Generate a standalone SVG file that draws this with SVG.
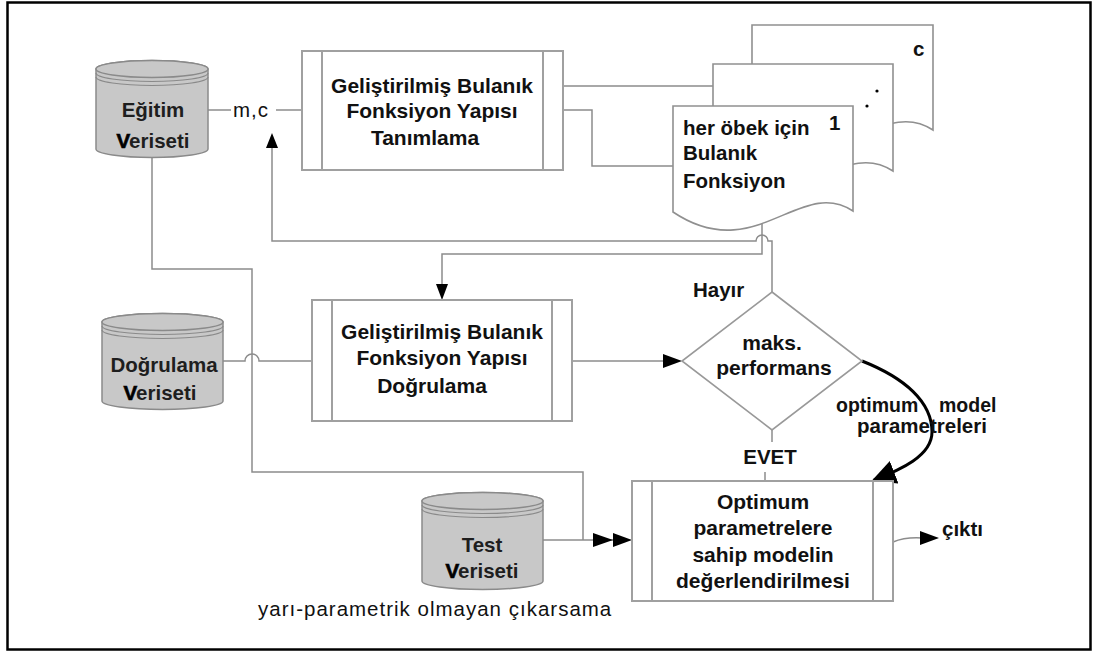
<svg xmlns="http://www.w3.org/2000/svg" width="1101" height="653" viewBox="0 0 1101 653">
  <style>
    .frame { fill: none; stroke: #000; stroke-width: 2.5; }
    .proc { fill: #fff; stroke: #a0a0a0; stroke-width: 2; }
    .bar { fill: none; stroke: #a0a0a0; stroke-width: 2; }
    .doc { fill: #fff; stroke: #909090; stroke-width: 1.6; }
    .cyl { fill: #c8c8c8; stroke: #8a8a8a; stroke-width: 1.5; }
    .ring { fill: none; stroke: #8a8a8a; stroke-width: 1.2; }
    .dia { fill: #fff; stroke: #999; stroke-width: 1.6; }
    .wire { fill: none; stroke: #8c8c8c; stroke-width: 1.5; }
    .bold-wire { fill: none; stroke: #000; stroke-width: 3; }
    .head { fill: #000; }
    text { font-family: "Liberation Sans", Arial, sans-serif; fill: #111; }
    .b { font-weight: bold; font-size: 21px; }
    .p { font-weight: bold; font-size: 20.5px; }
    .s { font-weight: bold; font-size: 19.5px; }
    .c { font-weight: bold; font-size: 20.5px; fill: #1e1e1e; }
    .r { font-size: 20.5px; letter-spacing: 1px; }
    .mid { text-anchor: middle; }
    .heavy { fill: #000; stroke: #000; stroke-width: 0.7; }
  </style>
  <defs>
    <marker id="bigarr" viewBox="0 0 10 10" refX="9" refY="5" markerWidth="8" markerHeight="8" orient="auto">
      <path d="M0,0 L10,5 L0,10 Z" fill="#000"/>
    </marker>
  </defs>

  <!-- outer frame -->
  <rect class="frame" x="7.5" y="2.5" width="1083" height="647"/>

  <!-- connectors -->
  <g id="connectors">
    <!-- Eğitim -> m,c -> identification box -->
    <path class="wire" d="M208,110 H231"/>
    <path class="wire" d="M276,110 H302"/>
    <!-- identification box -> function pages -->
    <path class="wire" d="M563,86 H717 V90"/>
    <path class="wire" d="M563,110 H592 V166 H673"/>
    <!-- pages -> validation box -->
    <path class="wire" d="M762,222 V254 H442 V292"/>
    <polygon class="head" points="436,284 448,284 442,300"/>
    <!-- Hayır loop back to m,c -->
    <path class="wire" d="M772,292 V241 H768 A6,6 0 0 0 756,241 H272 V146"/>
    <polygon class="head" points="266,148 278,148 272,133"/>
    <!-- Doğrulama data -> validation box (hop over vertical line) -->
    <path class="wire" d="M223,361 H245 A7,7 0 0 1 259,361 H312"/>
    <!-- Eğitim data down to evaluation box -->
    <path class="wire" d="M152,158 V269 H252 V472 H583 V540"/>
    <!-- validation box -> decision -->
    <path class="wire" d="M572,361 H666"/>
    <polygon class="head" points="663,354 663,368 682,361"/>
    <!-- EVET branch -->
    <path class="wire" d="M772,430 V442"/>
    <path class="wire" d="M765,472 V481"/>
    <!-- Test data -> evaluation box (double arrowhead) -->
    <path class="wire" d="M543,540 H615"/>
    <polygon class="head" points="593,533 593,547 613,540"/>
    <polygon class="head" points="613,533 613,547 632,540"/>
    <!-- optimum model parameters -->
    <path class="bold-wire" d="M862,361 C905,378 932,402 932,432 C932,456 900,470 874,480" marker-end="url(#bigarr)"/>
    <!-- output -->
    <path class="wire" d="M893,542 Q905,537 922,538"/>
    <polygon class="head" points="920,531 920,545 939,538"/>
  </g>

  <!-- training data store -->
  <g id="egitim">
    <path class="cyl" d="M96,69 A56,8.5 0 0 1 208,69 V149 A56,8.5 0 0 1 96,149 Z"/>
    <ellipse class="cyl" cx="152" cy="69" rx="56" ry="8.5"/>
    <path class="ring" d="M96,73 A56,8.5 0 0 0 208,73"/>
    <path class="ring" d="M96,77 A56,8.5 0 0 0 208,77"/>
    <text class="c mid" x="153" y="117">Eğitim</text>
    <text class="c mid" x="153" y="148"><tspan class="heavy">V</tspan>eriseti</text>
  </g>

  <text id="mc" class="r" x="233" y="117">m,c</text>

  <!-- structure identification process -->
  <g id="tanimlama">
    <rect class="proc" x="302" y="51" width="261" height="119"/>
    <path class="bar" d="M322,51 V170 M543,51 V170"/>
    <text class="b mid" x="432" y="93">Geliştirilmiş Bulanık</text>
    <text class="b mid" x="432" y="118">Fonksiyon Yapısı</text>
    <text class="b mid" x="425" y="145">Tanımlama</text>
  </g>

  <!-- stacked fuzzy function pages -->
  <g id="pages">
    <path class="doc" d="M752,130 V25 H933 V130 C880,95 835,185 752,130 Z"/>
    <path class="doc" d="M713,171 V64 H893 V171 C840,136 795,226 713,171 Z"/>
    <path class="doc" d="M673,212 V106 H853 V211 C800,176 755,267 673,212 Z"/>
    <text class="p" x="913" y="56">c</text>
    <circle cx="877" cy="91" r="1.6" fill="#000"/>
    <circle cx="867" cy="106" r="1.6" fill="#000"/>
    <text class="p" x="829" y="130">1</text>
    <text class="p" x="683" y="135">her öbek için</text>
    <text class="p" x="683" y="160">Bulanık</text>
    <text class="p" x="683" y="188">Fonksiyon</text>
  </g>

  <!-- validation data store -->
  <g id="dogrulama-veri">
    <path class="cyl" d="M102,322 A60.5,8.5 0 0 1 223,322 V401 A60.5,8.5 0 0 1 102,401 Z"/>
    <ellipse class="cyl" cx="162.5" cy="322" rx="60.5" ry="8.5"/>
    <path class="ring" d="M102,326 A60.5,8.5 0 0 0 223,326"/>
    <path class="ring" d="M102,330 A60.5,8.5 0 0 0 223,330"/>
    <text class="c mid" x="164" y="372">Doğrulama</text>
    <text class="c mid" x="160" y="400"><tspan class="heavy">V</tspan>eriseti</text>
  </g>

  <!-- structure validation process -->
  <g id="dogrulama">
    <rect class="proc" x="312" y="300" width="260" height="121"/>
    <path class="bar" d="M332,300 V421 M552,300 V421"/>
    <text class="b mid" x="442" y="339">Geliştirilmiş Bulanık</text>
    <text class="b mid" x="442" y="365">Fonksiyon Yapısı</text>
    <text class="b mid" x="432" y="393">Doğrulama</text>
  </g>

  <!-- decision -->
  <g id="karar">
    <polygon class="dia" points="772,292 862,361 772,430 682,361"/>
    <text class="b mid" x="772" y="350">maks.</text>
    <text class="b mid" x="774" y="375">performans</text>
    <text class="p" x="693" y="297">Hayır</text>
    <text class="p mid" x="770" y="464">EVET</text>
    <text class="s" x="836" y="412">optimum</text>
    <text class="s" x="939" y="412">model</text>
    <text class="p" x="857" y="433">parametreleri</text>
  </g>

  <!-- test data store -->
  <g id="test-veri">
    <path class="cyl" d="M422,501 A60.5,8.5 0 0 1 543,501 V581 A60.5,8.5 0 0 1 422,581 Z"/>
    <ellipse class="cyl" cx="482.5" cy="501" rx="60.5" ry="8.5"/>
    <path class="ring" d="M422,505 A60.5,8.5 0 0 0 543,505"/>
    <path class="ring" d="M422,509 A60.5,8.5 0 0 0 543,509"/>
    <text class="c mid" x="482" y="552">Test</text>
    <text class="c mid" x="482" y="578"><tspan class="heavy">V</tspan>eriseti</text>
  </g>

  <text id="alt-yazi" class="r" x="258" y="616">yarı-parametrik olmayan çıkarsama</text>

  <!-- evaluation process -->
  <g id="degerlendirme">
    <rect class="proc" x="632" y="481" width="261" height="120"/>
    <path class="bar" d="M652,481 V601 M873,481 V601"/>
    <text class="b mid" x="763" y="509">Optimum</text>
    <text class="b mid" x="763" y="535">parametrelere</text>
    <text class="b mid" x="763" y="562">sahip modelin</text>
    <text class="b mid" x="763" y="588">değerlendirilmesi</text>
    <text class="p" x="942" y="536">çıktı</text>
  </g>
</svg>
